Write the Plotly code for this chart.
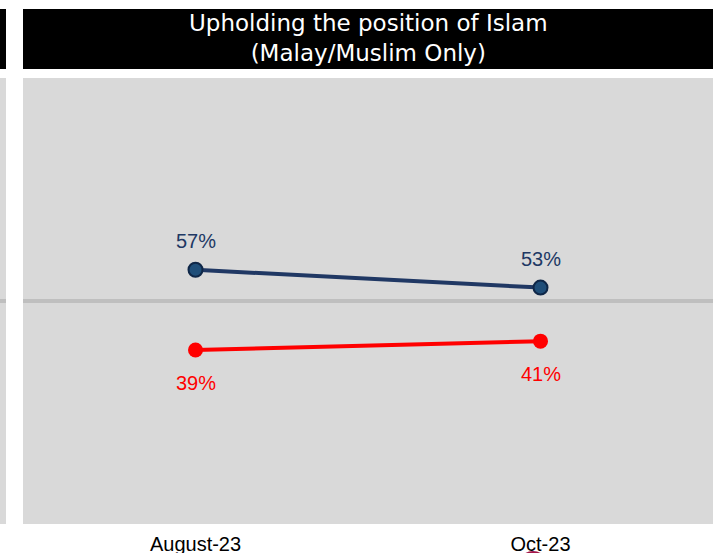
import plotly.graph_objects as go

categories = ["August-23", "Oct-23"]
series_blue = [57, 53]
series_red = [39, 41]
title_lines = ["Upholding the position of Islam", "(Malay/Muslim Only)"]
reference_value = 50

BLUE_LINE = "#203864"
BLUE_FILL = "#1F4E79"
BLUE_EDGE = "#0F2748"
RED = "#FF0000"
FONT = "Liberation Sans, Arial, sans-serif"

fig = go.Figure()

fig.add_trace(go.Scatter(
    x=categories, y=series_blue, mode="lines+markers",
    line=dict(color=BLUE_LINE, width=4),
    marker=dict(size=14, color=BLUE_FILL, line=dict(color=BLUE_EDGE, width=2)),
    hoverinfo="skip", showlegend=False,
))
fig.add_trace(go.Scatter(
    x=categories, y=series_red, mode="lines+markers",
    line=dict(color=RED, width=4),
    marker=dict(size=15, color=RED),
    hoverinfo="skip", showlegend=False,
))

annotations = []
for c, v in zip(categories, series_blue):
    annotations.append(dict(x=c, y=v, xref="x", yref="y", text=f"{v}%",
                            showarrow=False, yshift=29,
                            font=dict(family=FONT, size=20, color=BLUE_LINE)))
for c, v in zip(categories, series_red):
    annotations.append(dict(x=c, y=v, xref="x", yref="y", text=f"{v}%",
                            showarrow=False, yshift=-33,
                            font=dict(family=FONT, size=20, color=RED)))

# title text
H = 446.0
def py(p):
    return (524 - p) / H

annotations.append(dict(
    x=0.5, y=py(38), xref="paper", yref="paper",
    text="<br>".join(title_lines), showarrow=False,
    xanchor="center", yanchor="middle",
    font=dict(family="DejaVu Sans, Verdana, sans-serif", size=23, color="white"),
))

W = 690.0
def px(p):
    return (p - 23) / W

shapes = [
    # title box
    dict(type="rect", xref="paper", yref="paper", x0=0, x1=1, y0=py(69), y1=py(9),
         fillcolor="black", line=dict(width=0), layer="below"),
    # left neighbouring panel pieces
    dict(type="rect", xref="paper", yref="paper", x0=px(-5), x1=px(6), y0=py(69), y1=py(9),
         fillcolor="black", line=dict(width=0), layer="below"),
    dict(type="rect", xref="paper", yref="paper", x0=px(-5), x1=px(6), y0=0, y1=1,
         fillcolor="#D9D9D9", line=dict(width=0), layer="below"),
    # reference line
    dict(type="line", xref="paper", yref="y", x0=0, x1=1, y0=reference_value, y1=reference_value,
         line=dict(color="#BFBFBF", width=4), layer="below"),
    dict(type="line", xref="paper", yref="y", x0=px(-5), x1=px(6), y0=reference_value, y1=reference_value,
         line=dict(color="#BFBFBF", width=4), layer="below"),
    # partial logo circle at bottom
    dict(type="circle", xref="paper", yref="paper", x0=px(518), x1=px(548), y0=py(581), y1=py(551),
         fillcolor="#A3174A", line=dict(width=0), layer="below"),
]

fig.update_layout(
    width=723, height=553,
    margin=dict(l=23, r=10, t=78, b=29, autoexpand=False),
    paper_bgcolor="white", plot_bgcolor="#D9D9D9",
    xaxis=dict(type="category", range=[-0.5, 1.5], showgrid=False, zeroline=False,
               showline=False, ticks="", ticklabelstandoff=6, automargin=False,
               tickfont=dict(family=FONT, size=20, color="black")),
    yaxis=dict(range=[0, 100], showgrid=False, zeroline=False, showline=False,
               showticklabels=False, ticks="", automargin=False),
    annotations=annotations, shapes=shapes,
)

fig.write_html(
    "out.html",
    config={"displayModeBar": False},
    post_script="document.body.style.margin='0';document.body.style.overflow='hidden';",
)
